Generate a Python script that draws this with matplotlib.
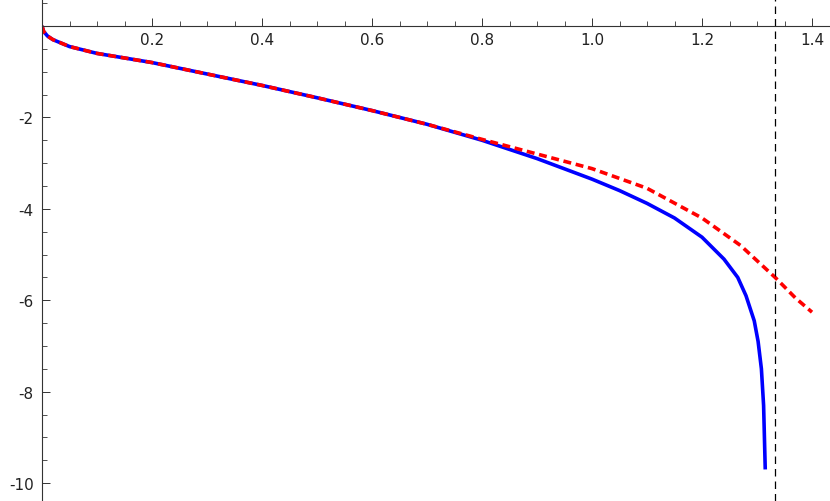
import matplotlib.pyplot as plt
from matplotlib.ticker import MultipleLocator, FixedLocator

# values
blue_x = [0, 0.003, 0.01, 0.02, 0.05, 0.1, 0.2, 0.3, 0.4, 0.5, 0.6, 0.7, 0.8, 0.9,
          1.0, 1.05, 1.1, 1.15, 1.2, 1.24, 1.265, 1.28, 1.295, 1.302, 1.308, 1.312, 1.315]
blue_y = [0, -0.12, -0.22, -0.3, -0.45, -0.6, -0.8, -1.05, -1.3, -1.57, -1.85, -2.15,
          -2.5, -2.9, -3.35, -3.6, -3.88, -4.2, -4.62, -5.1, -5.5, -5.9, -6.45,
          -6.9, -7.5, -8.3, -9.7]
red_x = [0, 0.003, 0.01, 0.02, 0.05, 0.1, 0.2, 0.3, 0.4, 0.5, 0.6, 0.7, 0.8, 0.9,
         1.0, 1.1, 1.2, 1.27, 1.333, 1.37, 1.40]
red_y = [0, -0.12, -0.22, -0.3, -0.45, -0.6, -0.8, -1.05, -1.3, -1.57, -1.85, -2.15,
         -2.48, -2.8, -3.12, -3.55, -4.2, -4.8, -5.5, -5.95, -6.26]
asymptote_x = 1.3333

fig = plt.figure(figsize=(8.3, 5.02), dpi=100)
ax = fig.add_axes([42 / 830, 0, 1 - 42 / 830, 1])
ax.set_xlim(0, 788 / 550)
ax.set_ylim(-10.39, 0.59)

ax.plot(blue_x, blue_y, color="#0000ff", lw=2.6, solid_capstyle="butt")
ax.plot(red_x, red_y, color="#ff0000", lw=2.6, ls=(0, (2.2, 1.3)))
ax.axvline(asymptote_x, color="black", lw=0.9, ls=(0, (6, 4)))

for side in ("top", "right"):
    ax.spines[side].set_visible(False)
ax.spines["left"].set_position(("data", 0))
ax.spines["bottom"].set_position(("data", 0))
for s in ("left", "bottom"):
    ax.spines[s].set_color("#333333")
    ax.spines[s].set_linewidth(0.8)

ax.xaxis.set_major_locator(FixedLocator([0.2, 0.4, 0.6, 0.8, 1.0, 1.2, 1.4]))
ax.xaxis.set_minor_locator(MultipleLocator(0.05))
ax.yaxis.set_major_locator(FixedLocator([-2, -4, -6, -8, -10]))
ax.yaxis.set_minor_locator(MultipleLocator(0.5))
ax.set_xticklabels(["0.2", "0.4", "0.6", "0.8", "1.0", "1.2", "1.4"])
ax.set_yticklabels(["-2", "-4", "-6", "-8", "-10"])
ax.tick_params(which="major", direction="in", length=6, width=0.7, labelsize=11,
               color="#333333", labelcolor="#222222")
ax.tick_params(which="minor", direction="in", length=3.5, width=0.6, color="#333333")
ax.tick_params(axis="x", pad=4)
ax.tick_params(axis="y", pad=6)

fig.savefig("out.png", dpi=100)
